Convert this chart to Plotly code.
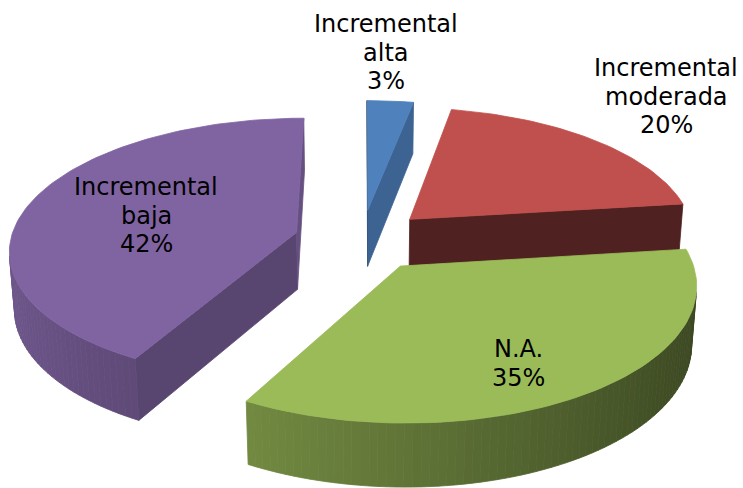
import numpy as np
import plotly.graph_objects as go

# ---- data -------------------------------------------------------------
categories = ["Incremental alta", "Incremental moderada", "N.A.", "Incremental baja"]
values = [3, 20, 35, 42]
colors = ["#4F81BD", "#C0504D", "#9BBB59", "#8064A2"]

# ---- styling / geometry of the 3-D exploded pie ------------------------
W, H = 743, 488
CX, CY = 361.5, 240.0          # screen position of the pie centre
RADIUS_PX = 286.0              # horizontal radius in pixels
TILT = np.radians(27.1)        # elevation of the viewpoint
CAM_DIST = 7.12                # camera distance (in radii) -> perspective
THICK = 0.228                  # slab thickness (in radii)
EXPLODE = 0.236                # explosion distance (in radii)

LABEL_ANCHORS = [(386, 24), (666, 68), (518, 349), (146, 187)]
LINE_GAP = 28.5
FONT = dict(family="DejaVu Sans, Verdana, sans-serif", size=24, color="#000000")

cam = CAM_DIST * np.array([0.0, np.sin(TILT), np.cos(TILT)])


def project(pts):
    pts = np.asarray(pts, dtype=float)
    X, Y, Z = pts[:, 0], pts[:, 1], pts[:, 2]
    depth = Y * np.sin(TILT) + Z * np.cos(TILT)
    s = CAM_DIST / (CAM_DIST - depth)
    sx = CX + RADIUS_PX * X * s
    sy = CY - RADIUS_PX * (Y * np.cos(TILT) - Z * np.sin(TILT)) * s
    return sx, sy


def shade(hex_color, f):
    f = max(0.0, min(1.2, f))
    r, g, b = (int(hex_color[i:i + 2], 16) for i in (1, 3, 5))
    r, g, b = (int(max(0, min(255, round(c * f)))) for c in (r, g, b))
    return f"rgb({r},{g},{b})"


def facing(normal, point):
    return float(np.dot(normal, cam - point)) > 0


def rim_factor(theta_deg):
    # curved outer wall: lit from the left
    return 0.62 + 0.24 * (-np.sin(np.radians(theta_deg)))


def wall_factor(normal_deg):
    # flat radial walls
    return 0.53 + 0.31 * np.cos(np.radians(normal_deg - 60))


total = float(sum(values))
bounds = np.concatenate([[0.0], np.cumsum(values) / total * 360.0])

slices = []
for i, v in enumerate(values):
    a, b = bounds[i], bounds[i + 1]
    m = np.radians((a + b) / 2)
    off = EXPLODE * np.array([np.sin(m), 0.0, -np.cos(m)])
    slices.append((i, a, b, off))

# paint far slices first
slices.sort(key=lambda s: s[3][1] * np.sin(TILT) + s[3][2] * np.cos(TILT))

fig = go.Figure()


def add_poly(pts, color):
    sx, sy = project(pts)
    fig.add_trace(go.Scatter(
        x=np.append(sx, sx[0]), y=np.append(sy, sy[0]),
        mode="lines", fill="toself", fillcolor=color,
        line=dict(color=color, width=0.8),
        hoverinfo="skip", showlegend=False))


def rim_point(off, th, y):
    t = np.radians(th)
    return off + np.array([np.sin(t), y, -np.cos(t)])


for i, a, b, off in slices:
    base = colors[i]
    ct = off.copy()
    cb = off + np.array([0.0, -THICK, 0.0])
    n = max(int((b - a) / 1.5) + 2, 3)
    th = np.linspace(a, b, n)

    faces = []
    # radial walls
    ra, rb = np.radians(a), np.radians(b)
    na = np.array([-np.cos(ra), 0.0, -np.sin(ra)])
    nb = np.array([np.cos(rb), 0.0, np.sin(rb)])
    for ang, nrm, ndeg in ((a, na, a - 90), (b, nb, b + 90)):
        if facing(nrm, ct):
            poly = [ct, rim_point(off, ang, 0), rim_point(off, ang, -THICK), cb]
            faces.append((poly, shade(base, wall_factor(ndeg % 360))))
    # curved outer wall
    for j in range(n - 1):
        tm = (th[j] + th[j + 1]) / 2
        r = np.radians(tm)
        nrm = np.array([np.sin(r), 0.0, -np.cos(r)])
        if facing(nrm, rim_point(off, tm, 0)):
            poly = [rim_point(off, th[j], 0), rim_point(off, th[j + 1], 0),
                    rim_point(off, th[j + 1], -THICK), rim_point(off, th[j], -THICK)]
            faces.append((poly, shade(base, rim_factor(tm))))
    for poly, col in faces:
        add_poly(poly, col)
    # top face
    top = [ct] + [rim_point(off, t, 0) for t in th]
    add_poly(top, base)

# ---- labels ------------------------------------------------------------
annotations = []
for i, name in enumerate(categories):
    lines = name.split(" ") + [f"{values[i]}%"]
    x0, y0 = LABEL_ANCHORS[i]
    for k, txt in enumerate(lines):
        annotations.append(dict(
            x=x0, y=y0 + k * LINE_GAP, xref="x", yref="y", text=txt,
            showarrow=False, xanchor="center", yanchor="middle", font=FONT))

fig.update_layout(
    width=W, height=H,
    margin=dict(l=0, r=0, t=0, b=0),
    paper_bgcolor="white", plot_bgcolor="white",
    xaxis=dict(range=[0, W], visible=False, fixedrange=True),
    yaxis=dict(range=[H, 0], visible=False, fixedrange=True),
    annotations=annotations,
    showlegend=False,
)

fig.write_html("out.html")
